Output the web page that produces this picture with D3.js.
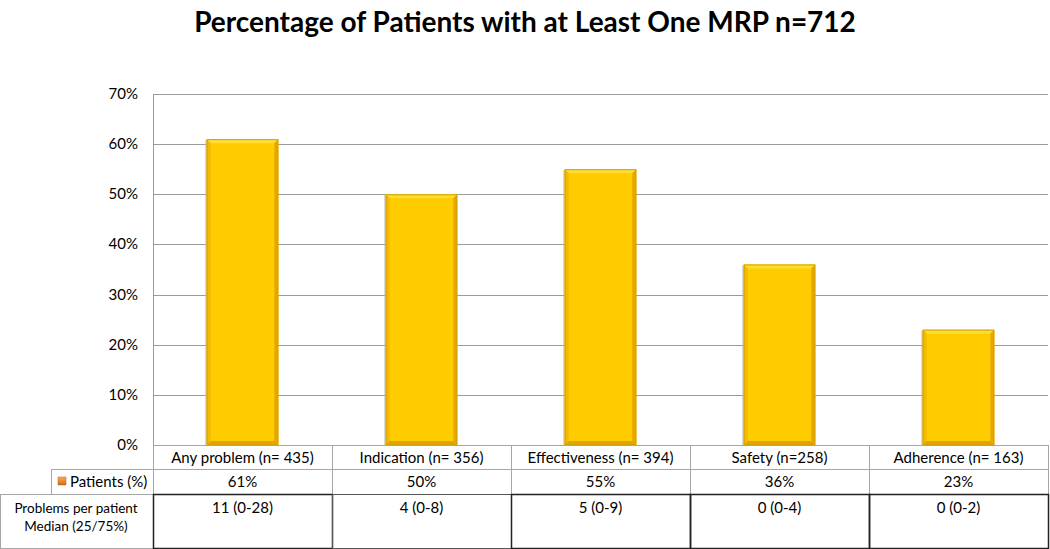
<!DOCTYPE html>
<html>
<head>
<meta charset="utf-8">
<script src="https://cdn.jsdelivr.net/npm/d3@7"></script>
<style>
  body { margin: 0; background: #fff; }
  svg { display: block; font-family: Lato, "Open Sans", sans-serif; }
</style>
</head>
<body>
<svg id="chart" width="1050" height="549"></svg>
<script>
// chart data
const categories = ["Any problem (n= 435)", "Indication (n= 356)", "Effectiveness (n= 394)", "Safety (n=258)", "Adherence (n= 163)"];
const patientsPct = [61, 50, 55, 36, 23];
const problemsMedian = ["11 (0-28)", "4 (0-8)", "5 (0-9)", "0 (0-4)", "0 (0-2)"];
const yTicks = [0, 10, 20, 30, 40, 50, 60, 70];
const titleText = "Percentage of Patients with at Least One MRP n=712";
const seriesName = "Patients (%)";
const rowLabel = ["Problems per patient", "Median (25/75%)"];

const svg = d3.select("#chart");
const margin = { left: 153, right: 2, top: 94, plotBottom: 445 };
const width = 1050, height = 549;

const x = d3.scaleBand()
    .domain(categories)
    .range([margin.left, width - margin.right])
    .padding(0);

const y = d3.scaleLinear()
    .domain([0, 70])
    .range([margin.plotBottom, margin.top]);

// gradient for the legend key
const defs = svg.append("defs");
const lg = defs.append("linearGradient").attr("id", "key").attr("x1", 0).attr("y1", 0).attr("x2", 0).attr("y2", 1);
lg.append("stop").attr("offset", "0%").attr("stop-color", "#f4b060");
lg.append("stop").attr("offset", "100%").attr("stop-color", "#d36a12");

// title
svg.append("text")
    .attr("x", width / 2)
    .attr("y", 32)
    .attr("text-anchor", "middle")
    .attr("font-size", 28)
    .attr("font-weight", "bold")
    .attr("fill", "#000")
    .text(titleText);

// gridlines
svg.append("g")
    .selectAll("line")
    .data(yTicks)
    .join("line")
    .attr("x1", margin.left)
    .attr("x2", width - margin.right)
    .attr("y1", d => Math.round(y(d)) + 0.5)
    .attr("y2", d => Math.round(y(d)) + 0.5)
    .attr("stroke", "#9a9a9a")
    .attr("stroke-width", 1);

// plot left border
svg.append("line")
    .attr("x1", margin.left + 0.5).attr("x2", margin.left + 0.5)
    .attr("y1", y(70)).attr("y2", margin.plotBottom)
    .attr("stroke", "#9a9a9a");

// y tick labels
svg.append("g")
    .selectAll("text")
    .data(yTicks)
    .join("text")
    .attr("x", 138)
    .attr("y", d => y(d) + 5)
    .attr("text-anchor", "end")
    .attr("font-size", 15)
    .attr("fill", "#000")
    .text(d => d + "%");

// bars
const barW = x.bandwidth() * 0.4;
const bev = 4;
const bars = svg.append("g")
    .selectAll("g")
    .data(categories.map((c, i) => ({ c, v: patientsPct[i] })))
    .join("g");

bars.each(function (d) {
    const g = d3.select(this);
    const x0 = x(d.c) + (x.bandwidth() - barW) / 2;
    const x1 = x0 + barW;
    const y0 = y(d.v);
    const y1 = y(0);
    // soft shadow
    g.append("rect")
        .attr("x", x0 - 1.5).attr("y", y0 + 1)
        .attr("width", barW + 1).attr("height", y1 - y0 - 1)
        .attr("fill", "#b0b0b0").attr("opacity", 0.6);
    g.append("rect")
        .attr("x", x0).attr("y", y0)
        .attr("width", barW).attr("height", y1 - y0)
        .attr("fill", "#ffcc00");
    // top bevel
    g.append("path")
        .attr("d", `M${x0},${y0}L${x1},${y0}L${x1 - bev},${y0 + bev}L${x0 + bev},${y0 + bev}Z`)
        .attr("fill", "#ffdd33");
    // right bevel
    g.append("path")
        .attr("d", `M${x1},${y0}L${x1},${y1}L${x1 - bev},${y1 - bev}L${x1 - bev},${y0 + bev}Z`)
        .attr("fill", "#e6a800");
    // left bevel
    g.append("path")
        .attr("d", `M${x0},${y0}L${x0 + bev},${y0 + bev}L${x0 + bev},${y1 - bev}L${x0},${y1}Z`)
        .attr("fill", "#f2bb00");
    // bottom bevel
    g.append("path")
        .attr("d", `M${x0},${y1}L${x0 + bev},${y1 - bev}L${x1 - bev},${y1 - bev}L${x1},${y1}Z`)
        .attr("fill", "#e0a400");
    g.append("rect")
        .attr("x", x0 + 0.5).attr("y", y0 + 0.5)
        .attr("width", barW - 1).attr("height", y1 - y0 - 1)
        .attr("fill", "none").attr("stroke", "#d9a000").attr("stroke-width", 1);
});

// data table
const row1 = [445, 469];
const row2 = [469, 494];
const row3 = [494, 548];
const grid = "#a6a6a6";
const table = svg.append("g");

// category row and patients row cells
categories.forEach((c, i) => {
    const cx = x(c);
    table.append("rect")
        .attr("x", cx + 0.5).attr("y", row1[0] + 0.5)
        .attr("width", x.bandwidth()).attr("height", row2[1] - row1[0])
        .attr("fill", "none").attr("stroke", grid);
    table.append("line")
        .attr("x1", cx).attr("x2", cx + x.bandwidth())
        .attr("y1", row2[0] + 0.5).attr("y2", row2[0] + 0.5)
        .attr("stroke", grid);
    table.append("text")
        .attr("x", cx + x.bandwidth() / 2).attr("y", row1[0] + 18)
        .attr("text-anchor", "middle").attr("font-size", 15)
        .text(c);
    table.append("text")
        .attr("x", cx + x.bandwidth() / 2).attr("y", row2[0] + 18)
        .attr("text-anchor", "middle").attr("font-size", 15)
        .text(patientsPct[i] + "%");
});

// legend cell
table.append("rect")
    .attr("x", 51.5).attr("y", row2[0] + 0.5)
    .attr("width", margin.left - 51).attr("height", row2[1] - row2[0])
    .attr("fill", "none").attr("stroke", grid);
table.append("rect")
    .attr("x", 58).attr("y", row2[0] + 8)
    .attr("width", 8).attr("height", 8)
    .attr("fill", "url(#key)").attr("stroke", "#c06010").attr("stroke-width", 0.5);
table.append("text")
    .attr("x", 70).attr("y", row2[0] + 18)
    .attr("font-size", 15)
    .text(seriesName);

// problems row
table.append("rect")
    .attr("x", 0.5).attr("y", row3[0] + 0.5)
    .attr("width", margin.left).attr("height", row3[1] - row3[0])
    .attr("fill", "none").attr("stroke", grid);
table.append("text")
    .attr("x", 76).attr("y", row3[0] + 19)
    .attr("text-anchor", "middle").attr("font-size", 13.5)
    .selectAll("tspan")
    .data(rowLabel)
    .join("tspan")
    .attr("x", 76)
    .attr("dy", (d, i) => i === 0 ? 0 : 18)
    .text(d => d);

categories.forEach((c, i) => {
    const cx = x(c);
    table.append("rect")
        .attr("x", cx + 0.5).attr("y", row3[0] + 0.5)
        .attr("width", x.bandwidth()).attr("height", row3[1] - row3[0])
        .attr("fill", "none")
        .attr("stroke", i === 1 ? "#555" : "#222")
        .attr("stroke-width", i === 1 ? 1 : 1.5);
    table.append("text")
        .attr("x", cx + x.bandwidth() / 2).attr("y", row3[0] + 19)
        .attr("text-anchor", "middle").attr("font-size", 15)
        .text(problemsMedian[i]);
});
</script>
</body>
</html>
